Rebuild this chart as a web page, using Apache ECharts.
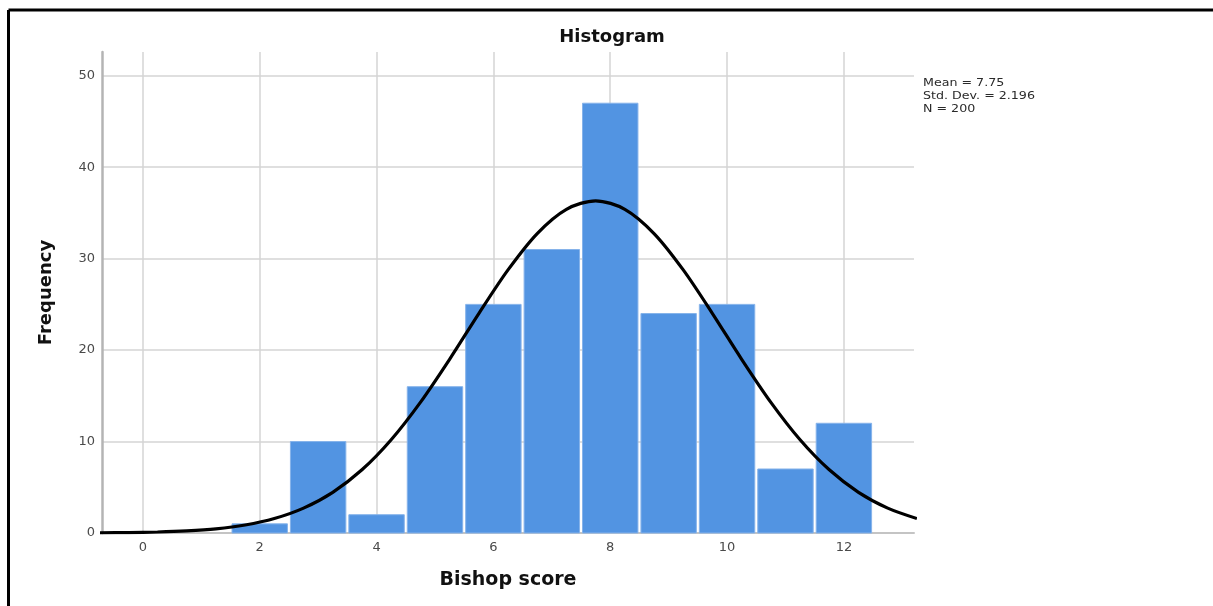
<!DOCTYPE html>
<html><head><meta charset="utf-8">
<script src="https://cdn.jsdelivr.net/npm/echarts@6/dist/echarts.min.js"></script>
<style>html,body{margin:0;padding:0;background:#fff}#c{width:1213px;height:606px}</style>
</head><body><div id="c"></div>
<script>
// Histogram bins (Bishop score) and frequencies
const scores = [2, 3, 4, 5, 6, 7, 8, 9, 10, 11, 12];
const frequencies = [1, 10, 2, 16, 25, 31, 47, 24, 25, 7, 12];
// Normal curve (Mean 7.75, SD 2.196, N 200)
const curveX = [-0.75, -0.25, 0.25, 0.75, 1.25, 1.75, 2.25, 2.75, 3.25, 3.75, 4.25, 4.75, 5.25, 5.75, 6.25, 6.75, 7.25, 7.75, 8.25, 8.75, 9.25, 9.75, 10.25, 10.75, 11.25, 11.75, 12.25, 12.75, 13.25];
const curveY = [0.02, 0.05, 0.11, 0.23, 0.45, 0.87, 1.58, 2.72, 4.45, 6.91, 10.2, 14.29, 19.0, 24.0, 28.77, 32.75, 35.4, 36.33, 35.4, 32.75, 28.77, 24.0, 19.0, 14.29, 10.2, 6.91, 4.45, 2.72, 1.58];
const xTickValues = [0, 2, 4, 6, 8, 10, 12];
const statsLines = ['Mean = 7.75', 'Std. Dev. = 2.196', 'N = 200'];
const titleText = 'Histogram';
const xName = 'Bishop score';
const yName = 'Frequency';

const chart = echarts.init(document.getElementById('c'), null, {renderer: 'canvas'});
const barData = scores.map((s, i) => [s, frequencies[i]]);
const curveData = curveX.map((x, i) => [x, curveY[i]]);

const graphics = [
  {type: 'line', shape: {x1: 8.5, y1: 10, x2: 1213, y2: 10}, style: {stroke: '#000', lineWidth: 3}, z: 100},
  {type: 'line', shape: {x1: 8.5, y1: 10, x2: 8.5, y2: 606}, style: {stroke: '#000', lineWidth: 3}, z: 100},
  {type: 'text', x: 612, y: 37, style: {text: titleText, font: 'bold 18px "DejaVu Sans"', fill: '#111', textAlign: 'center', textVerticalAlign: 'middle'}}
];
statsLines.forEach((t, i) => {
  graphics.push({type: 'text', x: 923, y: 83 + i * 13, scaleX: 1.15,
    style: {text: t, font: '11px "DejaVu Sans"', fill: '#2a2a2a', textAlign: 'left', textVerticalAlign: 'middle'}});
});

chart.setOption({
  animation: false,
  backgroundColor: '#fff',
  grid: {left: 102, right: 299, top: 52, bottom: 73, containLabel: false},
  graphic: graphics,
  xAxis: {
    type: 'value', min: -0.7, max: 13.2,
    name: xName, nameLocation: 'middle', nameGap: 38,
    nameTextStyle: {fontFamily: 'DejaVu Sans', fontWeight: 'bold', fontSize: 19, color: '#111'},
    axisLine: {show: true, onZero: false, lineStyle: {color: '#c4c4c4', width: 2}},
    axisTick: {show: false, customValues: xTickValues},
    axisLabel: {customValues: xTickValues, color: '#4a4a4a', fontFamily: 'DejaVu Sans', fontSize: 13, margin: 8},
    splitLine: {show: true, lineStyle: {color: '#d4d4d4', width: 1.5}}
  },
  yAxis: {
    type: 'value', min: 0, max: 52.6, interval: 10,
    name: yName, nameLocation: 'middle', nameGap: 47,
    nameTextStyle: {fontFamily: 'DejaVu Sans', fontWeight: 'bold', fontSize: 18, color: '#111'},
    axisLine: {show: true, onZero: false, lineStyle: {color: '#b4b4b4', width: 2.5}},
    axisTick: {show: false},
    axisLabel: {color: '#4a4a4a', fontFamily: 'DejaVu Sans', fontSize: 13, margin: 7, showMaxLabel: false,
      formatter: v => (v % 10 === 0 ? String(v) : '')},
    splitLine: {show: true, showMaxLine: false, lineStyle: {color: '#d4d4d4', width: 1.5}}
  },
  series: [
    {
      type: 'custom', z: 2,
      data: barData,
      encode: {x: 0, y: 1},
      renderItem: function (params, api) {
        const x = api.value(0), y = api.value(1);
        const p0 = api.coord([x - 0.5, y]);
        const p1 = api.coord([x + 0.5, 0]);
        return {
          type: 'rect',
          shape: {x: p0[0] + 1.5, y: p0[1], width: p1[0] - p0[0] - 3, height: p1[1] - p0[1]},
          style: {fill: '#5294e2', stroke: '#86b3ea', lineWidth: 1}
        };
      }
    },
    {
      type: 'line', z: 5,
      data: curveData, smooth: 0.3, showSymbol: false, symbol: 'none',
      lineStyle: {color: '#000', width: 3.2},
      clip: true
    }
  ]
});
</script>
</body></html>
